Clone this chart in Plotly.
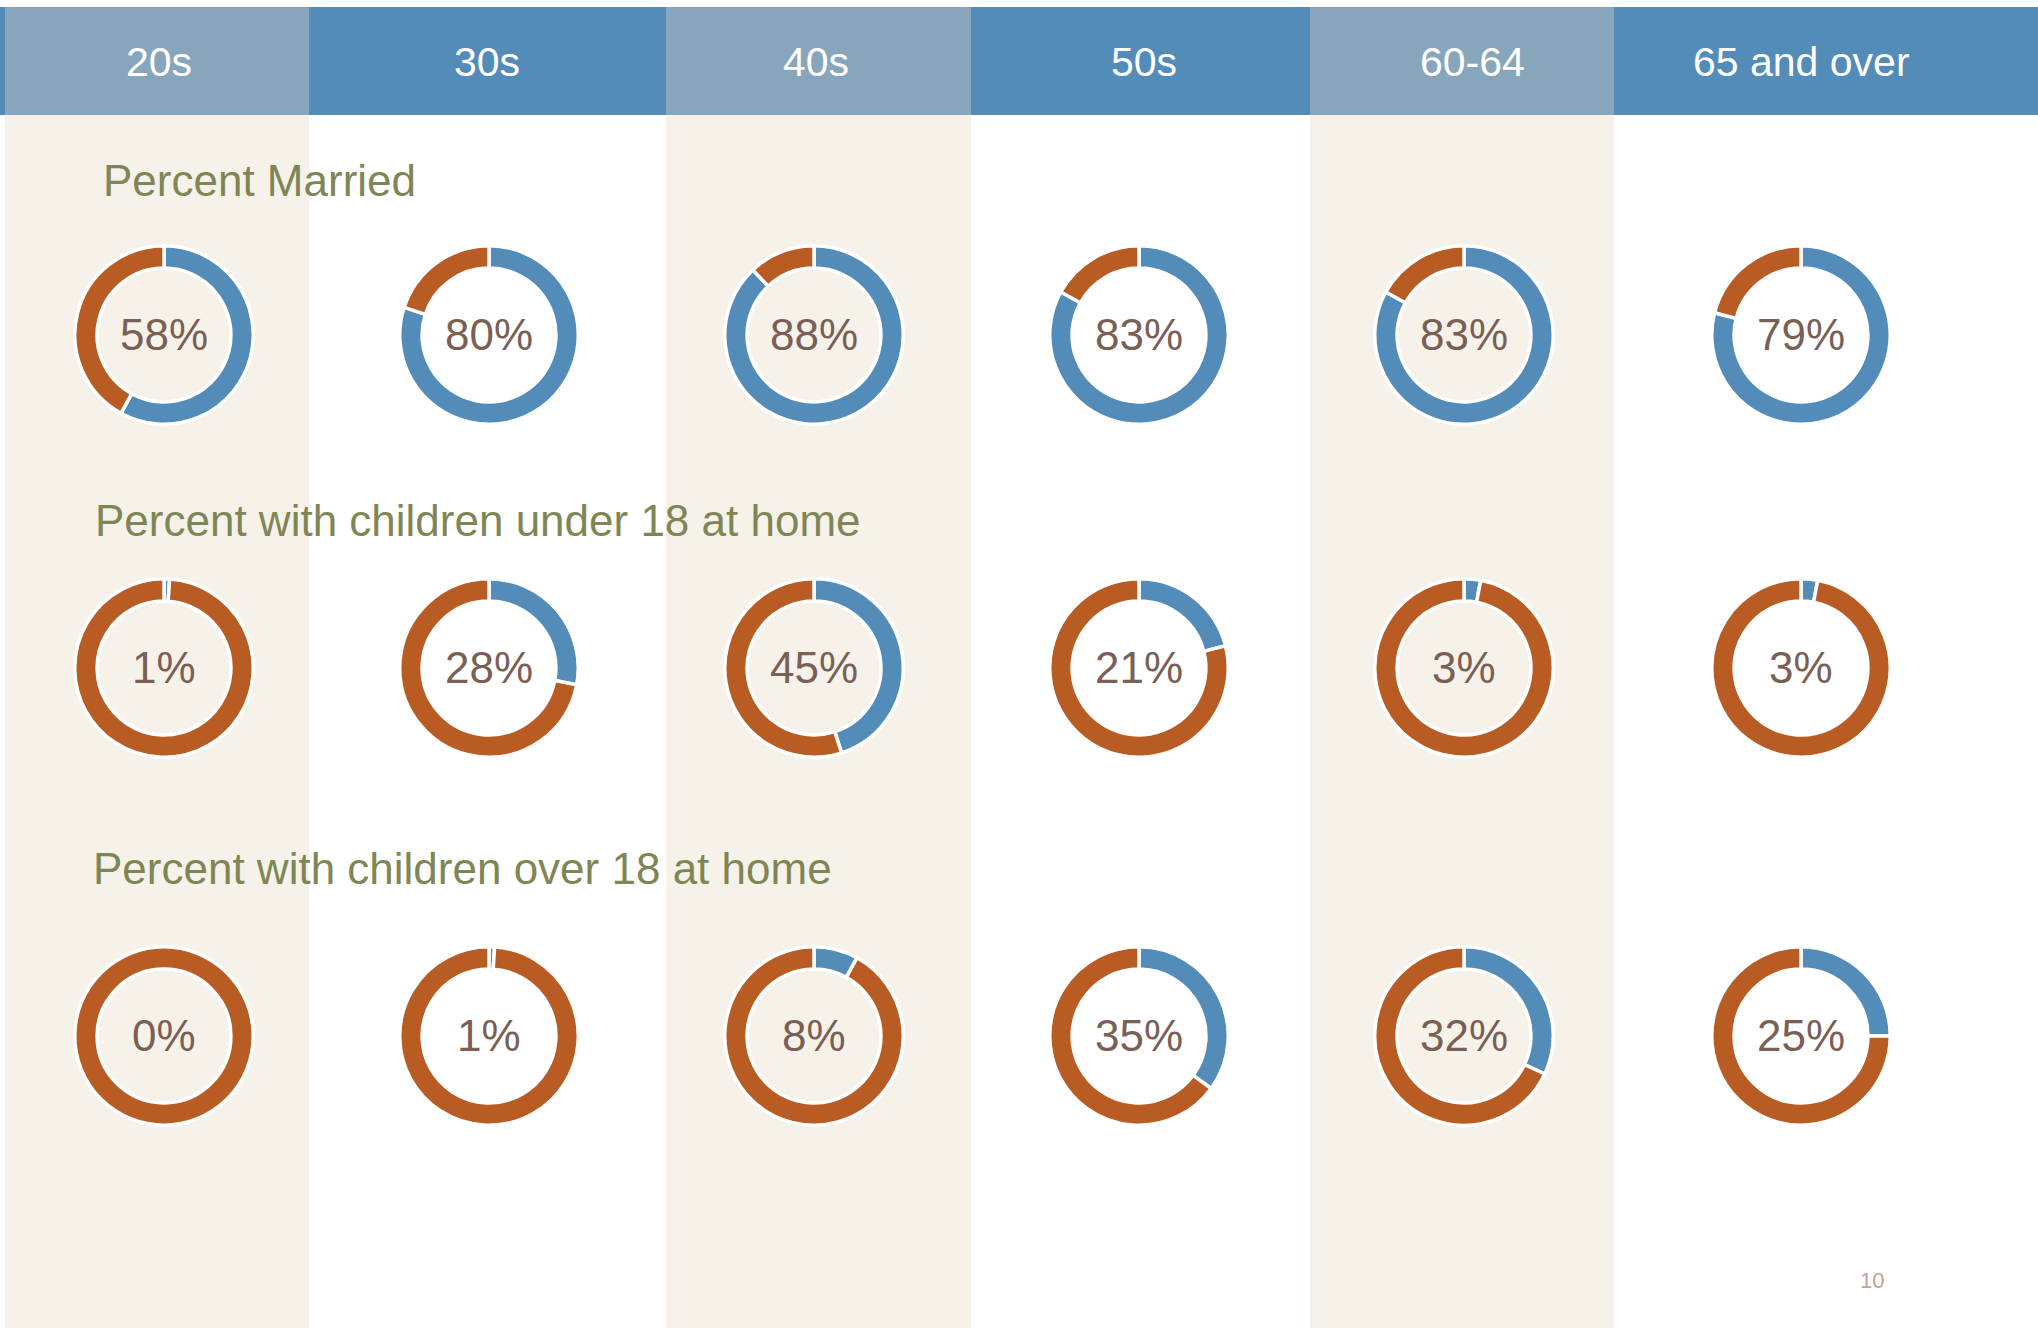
import plotly.graph_objects as go

W, H = 2038, 1328

age_groups = ["20s", "30s", "40s", "50s", "60-64", "65 and over"]
row_titles = ["Percent Married",
              "Percent with children under 18 at home",
              "Percent with children over 18 at home"]
pct_married = [58, 80, 88, 83, 83, 79]
pct_kids_under18 = [1, 28, 45, 21, 3, 3]
pct_kids_over18 = [0, 1, 8, 35, 32, 25]
page_number = "10"

rows = [pct_married, pct_kids_under18, pct_kids_over18]

BLUE = "#538BB9"
LIGHT_BLUE = "#87A6BB"
ORANGE = "#B85C23"
TAN = "#F6F2EA"
OLIVE = "#7F8655"
PCT_GREY = "#7A5F55"
FONT = "Liberation Sans, Arial, sans-serif"

# layout in pixels
col_edges = [5, 309, 666, 971, 1310, 1614, 2038]
label_x = [159, 487, 816, 1144, 1472, 1801]
donut_x = [164, 489, 814, 1139, 1464, 1801]
donut_y = [335, 668, 1036]
title_pos = [(101, 180), (93, 520), (91, 868)]
R = 89.25


def px_x(v):
    return v / W


def px_y(v):
    return 1 - v / H


fig = go.Figure()

shapes = [dict(type="rect", xref="paper", yref="paper", layer="below",
               x0=0, x1=1, y0=px_y(115), y1=px_y(7),
               fillcolor=BLUE, line_width=0)]
for i in range(0, 6, 2):
    shapes.append(dict(type="rect", xref="paper", yref="paper", layer="below",
                       x0=px_x(col_edges[i]), x1=px_x(col_edges[i + 1]),
                       y0=px_y(115), y1=px_y(7),
                       fillcolor=LIGHT_BLUE, line_width=0))
    shapes.append(dict(type="rect", xref="paper", yref="paper", layer="below",
                       x0=px_x(col_edges[i]), x1=px_x(col_edges[i + 1]),
                       y0=0, y1=px_y(115),
                       fillcolor=TAN, line_width=0))

annotations = []
for lab, x in zip(age_groups, label_x):
    annotations.append(dict(text=lab, x=px_x(x), y=px_y(62),
                            xref="paper", yref="paper", showarrow=False,
                            xanchor="center", yanchor="middle",
                            font=dict(family=FONT, size=41, color="white")))

for t, (x, y) in zip(row_titles, title_pos):
    annotations.append(dict(text=t, x=px_x(x), y=px_y(y),
                            xref="paper", yref="paper", showarrow=False,
                            xanchor="left", yanchor="middle",
                            font=dict(family=FONT, size=44, color=OLIVE)))

for r, vals in enumerate(rows):
    for c, v in enumerate(vals):
        cx, cy = donut_x[c], donut_y[r]
        fig.add_trace(go.Pie(
            values=[v, 100 - v],
            marker=dict(colors=[BLUE, ORANGE],
                        line=dict(color="white", width=3.5)),
            hole=0.75, sort=False, direction="clockwise", rotation=0,
            textinfo="none", hoverinfo="skip", showlegend=False,
            domain=dict(x=[px_x(cx - R), px_x(cx + R)],
                        y=[px_y(cy + R), px_y(cy - R)])))
        annotations.append(dict(text=f"{v}%", x=px_x(cx), y=px_y(cy - 1),
                                xref="paper", yref="paper", showarrow=False,
                                xanchor="center", yanchor="middle",
                                font=dict(family=FONT, size=44,
                                          color=PCT_GREY)))

annotations.append(dict(text=page_number, x=px_x(1872), y=px_y(1280),
                        xref="paper", yref="paper", showarrow=False,
                        xanchor="center", yanchor="middle",
                        font=dict(family=FONT, size=22, color="#C2A397")))

fig.update_layout(width=W, height=H,
                  margin=dict(l=0, r=0, t=0, b=0),
                  paper_bgcolor="white", plot_bgcolor="white",
                  shapes=shapes, annotations=annotations)

fig.write_html("out.html", config={"displayModeBar": False},
               post_script="document.body.style.margin='0';"
                           "document.body.style.overflow='hidden';")
